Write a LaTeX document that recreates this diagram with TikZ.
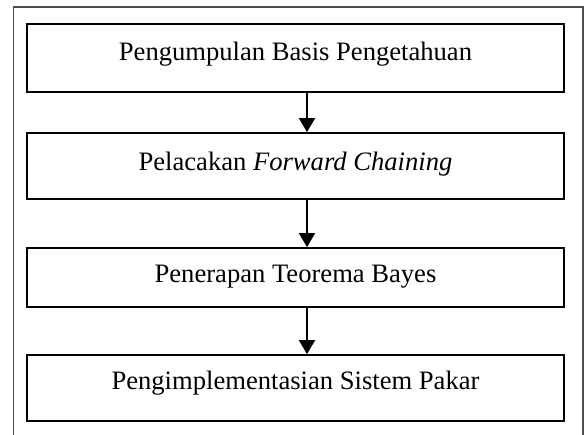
\documentclass[tikz,border=0pt]{standalone}
\usepackage{fontspec}
\setmainfont{Liberation Serif}
\usetikzlibrary{arrows.meta}
\begin{document}
\begin{tikzpicture}[x=1pt,y=-1pt,
  stepbox/.style={draw=black,line width=1.8pt,minimum width=537pt,inner sep=0pt,
    font=\fontsize{26.6}{30}\selectfont,text height=18pt},
  arr/.style={line width=2pt,-{Triangle[length=14pt,width=16pt]}},
  frame/.style={draw=black!70,line width=1.3pt}]
\useasboundingbox (0,0) rectangle (584,435);
\draw[frame] (13.5,435) -- (13.5,7) -- (583,7) -- (583,435);
\node[stepbox,minimum height=68pt,text depth=12pt] (b1) at (295.5,58) {Pengumpulan Basis Pengetahuan};
\node[stepbox,minimum height=66pt,text depth=8pt] (b2) at (295.5,166) {Pelacakan \textit{Forward Chaining}};
\node[stepbox,minimum height=59pt,text depth=7pt] (b3) at (295.5,277.5) {Penerapan Teorema Bayes};
\node[stepbox,minimum height=66pt,text depth=14pt] (b4) at (295.5,388) {Pengimplementasian Sistem Pakar};
\coordinate (ax) at (307,0);
\draw[arr] (b1.south -| ax) -- (b2.north -| ax);
\draw[arr] (b2.south -| ax) -- (b3.north -| ax);
\draw[arr] (b3.south -| ax) -- (b4.north -| ax);
\end{tikzpicture}
\end{document}
